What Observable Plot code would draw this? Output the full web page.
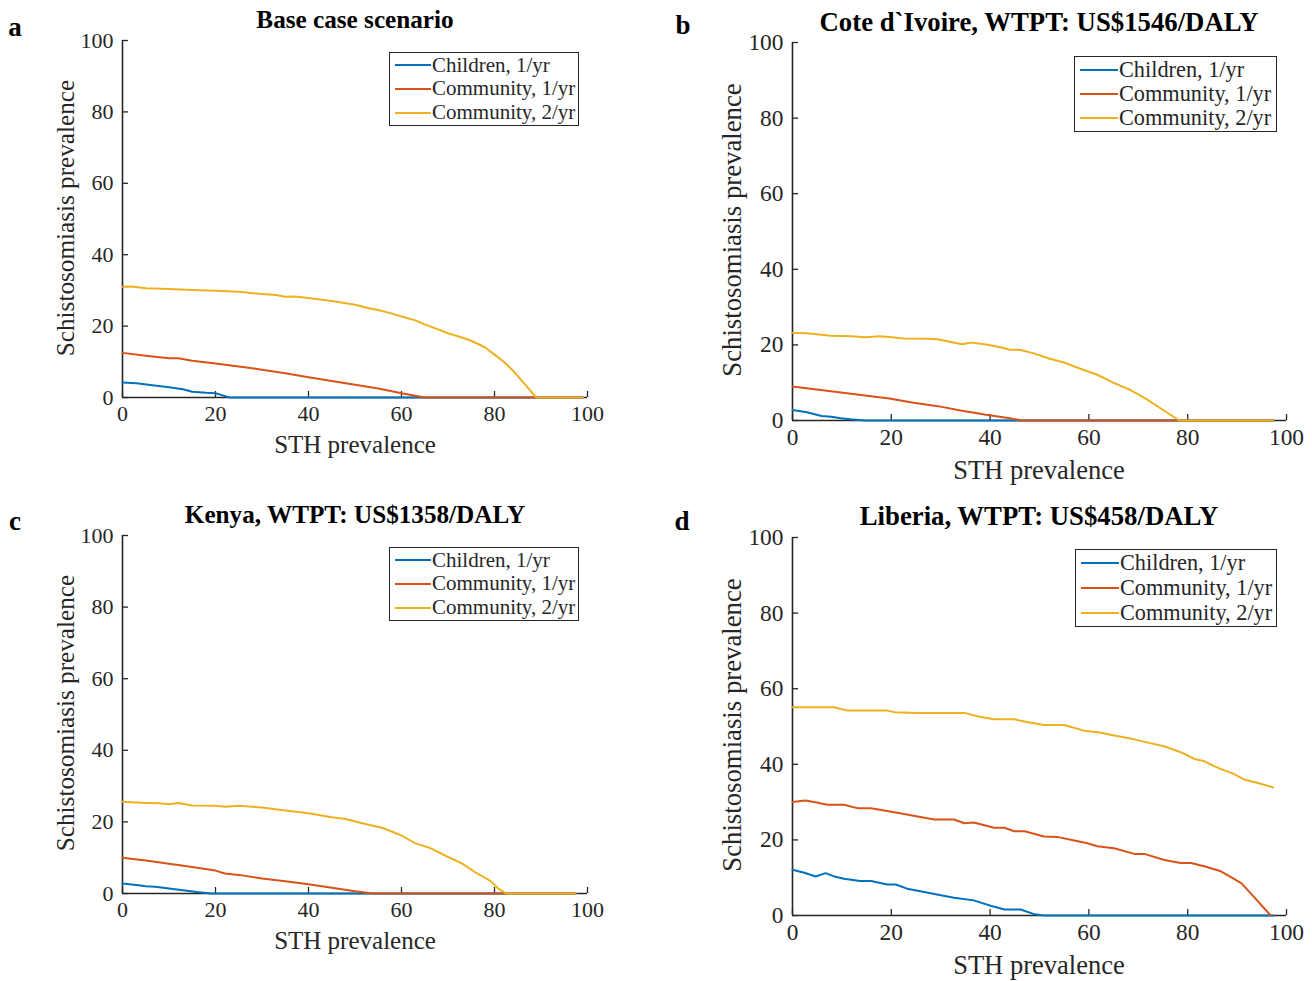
<!DOCTYPE html>
<html><head><meta charset="utf-8">
<script src="https://cdn.jsdelivr.net/npm/d3@7"></script>
<script src="https://cdn.jsdelivr.net/npm/@observablehq/plot@0.6"></script>
<style>
body{margin:0;background:#fff;}
#root{position:relative;width:1312px;height:981px;font-family:"Liberation Serif","Times New Roman",serif;color:#262626;overflow:hidden;background:#fff}
.abs{position:absolute;white-space:nowrap;line-height:1}
.title{font-weight:bold;color:#000;transform:translate(-50%,-50%)}
.letter{font-weight:bold;font-size:27px;color:#000;transform:translate(-50%,-50%)}
.xlab{transform:translate(-50%,-50%)}
.ylab{transform:translate(-50%,-50%) rotate(-90deg)}
.legend{border:1.5px solid #262626;background:#fff;box-sizing:border-box;color:#262626}
.row{position:absolute;left:0;display:flex;align-items:center;white-space:nowrap;line-height:1}
.sw{display:inline-block;height:2px;margin-right:1px}
</style>
</head><body><div id="root"></div>
<script>
// ---- data ----
const seriesNames = ["Children, 1/yr", "Community, 1/yr", "Community, 2/yr"];
const seriesColors = ["#0072BD", "#D95319", "#EDB120"];
const xTicks = [0, 20, 40, 60, 80, 100];
const yTicks = [0, 20, 40, 60, 80, 100];
const panelTitles = ["Base case scenario", "Cote d`Ivoire, WTPT: US$1546/DALY", "Kenya, WTPT: US$1358/DALY", "Liberia, WTPT: US$458/DALY"];
const panelLetters = ["a", "b", "c", "d"];
const xLabel = "STH prevalence";
const yLabel = "Schistosomiasis prevalence";

// panel a: Base case
const aChildren = [[0,4.2],[3,4.0],[6,3.5],[10,2.9],[13,2.3],[15,1.6],[18,1.3],[20,1.2],[21,0.8],[23,0],[99,0]];
const aCommunity1 = [[0,12.5],[5,11.7],[10,11.0],[12,11.0],[15,10.3],[20,9.5],[25,8.7],[30,7.8],[35,6.8],[40,5.7],[45,4.6],[50,3.6],[55,2.5],[60,1.2],[65,0],[99,0]];
const aCommunity2 = [[0,31],[2,31.1],[5,30.6],[10,30.4],[15,30.1],[20,29.9],[25,29.6],[30,29],[33,28.7],[35,28.2],[37,28.3],[40,27.9],[45,27],[50,26],[53,25],[55,24.5],[58,23.5],[60,22.7],[63,21.6],[65,20.5],[68,19],[70,18],[73,16.8],[75,15.9],[78,14],[80,12],[82,10],[84,7.5],[86,4.5],[88,1.5],[89,0],[99,0]];

// panel b: Cote d'Ivoire
const bChildren = [[0,2.8],[2.9,2.2],[5.9,1.2],[7.8,1.0],[9.8,0.6],[11.7,0.3],[14.7,0],[97.3,0]];
const bCommunity1 = [[0,9.0],[4.9,8.2],[9.8,7.4],[14.7,6.6],[19.6,5.8],[24.5,4.7],[29.4,3.8],[34.3,2.6],[39.2,1.5],[44,0.6],[46.5,0],[97.3,0]];
const bCommunity2 = [[0,23.2],[2.9,23.1],[4.9,22.8],[7.8,22.4],[11.7,22.3],[14.7,22.0],[17.6,22.3],[19.6,22.1],[22.5,21.7],[27.4,21.6],[29.4,21.5],[32.3,20.7],[34.3,20.2],[36.2,20.6],[39.2,20.1],[42.1,19.4],[44,18.7],[46,18.7],[49,17.7],[51.9,16.4],[54.8,15.4],[58.7,13.5],[61.7,12.1],[64.6,10.2],[68.5,8.0],[71.5,5.8],[74.4,3.3],[78.3,0],[97.3,0]];

// panel c: Kenya
const cChildren = [[0,2.8],[3,2.4],[5,2.0],[7,1.9],[10,1.4],[13,0.9],[16,0.4],[19,0],[97.4,0]];
const cCommunity1 = [[0,10],[5,9.2],[10,8.3],[15,7.4],[20,6.4],[22,5.6],[25,5.2],[30,4.2],[35,3.4],[40,2.6],[45,1.6],[50,0.6],[54,0],[97.4,0]];
const cCommunity2 = [[0,25.6],[5,25.3],[8,25.2],[10,24.9],[12,25.3],[15,24.6],[20,24.5],[22,24.2],[25,24.5],[30,24.0],[35,23.2],[40,22.4],[45,21.3],[48,20.8],[52,19.5],[56,18.3],[60,16.2],[63,14.0],[66,12.8],[70,10.2],[73,8.4],[76,5.8],[79,3.6],[81,1.2],[82.5,0],[97.4,0]];

// panel d: Liberia
const dChildren = [[0,12.1],[2.4,11.3],[4.7,10.3],[6.7,11.2],[8.3,10.4],[10.4,9.7],[13.7,9.1],[15.9,9.1],[19.2,8.2],[20.9,8.2],[23.2,7.1],[25.9,6.4],[28.7,5.7],[32.7,4.7],[36.7,4.0],[40.1,2.6],[42.9,1.6],[46.2,1.6],[49,0.3],[50.9,0],[97.3,0]];
const dCommunity1 = [[0,30],[2.6,30.4],[4.9,29.9],[7,29.3],[10.4,29.3],[13.1,28.4],[15.9,28.4],[21.2,27.2],[24.5,26.4],[28.7,25.4],[32.7,25.4],[34.8,24.4],[36.7,24.6],[40.8,23.2],[42.9,23.2],[44.9,22.3],[47,22.3],[50.9,20.9],[53.6,20.8],[56.8,19.9],[59.7,19.1],[61.7,18.3],[65.1,17.8],[69.2,16.3],[71.2,16.3],[75.3,14.7],[78.6,13.9],[80.7,13.9],[83.7,12.9],[86.7,11.7],[88.6,10.3],[90.9,8.5],[93.5,4.8],[96.8,0]];
const dCommunity2 = [[0,55.1],[8.4,55.1],[11.1,54.2],[19.2,54.2],[20.6,53.8],[25.3,53.6],[34.8,53.6],[37.4,52.7],[40.8,51.9],[44.9,51.9],[47.7,51.1],[50.9,50.4],[55,50.4],[59,48.9],[62.2,48.4],[65.1,47.6],[69.2,46.6],[72.4,45.6],[75.4,44.7],[78.6,43.2],[81.4,41.4],[83.2,40.9],[85.2,39.6],[87.4,38.4],[89.1,37.6],[91.4,36.0],[94,35.1],[97.3,33.9]];

const panelSeries = [
  [aChildren, aCommunity1, aCommunity2],
  [bChildren, bCommunity1, bCommunity2],
  [cChildren, cCommunity1, cCommunity2],
  [dChildren, dCommunity1, dCommunity2]
];

// ---- layout ----
const layout = [
  {x0:122, x1:587,  yTop:40,  yBot:397, s:1,     title:[355,20],   letter:[15,27],  xlab:[355,444],  ylab:[66,218],  legend:[389,52,190,74],   sw:36},
  {x0:792, x1:1286, yTop:42,  yBot:420, s:1.062, title:[1039,22],  letter:[683,25], xlab:[1039,470], ylab:[732,230], legend:[1074,56,203,76],  sw:38},
  {x0:122, x1:587,  yTop:535, yBot:893, s:1,     title:[355,515],  letter:[15,521], xlab:[355,940],  ylab:[66,713],  legend:[389,547,190,74],  sw:36},
  {x0:792, x1:1286, yTop:537, yBot:915, s:1.062, title:[1039,516], letter:[682,521],xlab:[1039,965], ylab:[732,725], legend:[1075,549,202,78], sw:38}
];

const root = document.getElementById("root");
const font = '"Liberation Serif","Times New Roman",serif';
const axisColor = "#262626";

function addDiv(cls, text, x, y, size) {
  const d = document.createElement("div");
  d.className = "abs " + cls;
  d.textContent = text;
  d.style.left = x + "px";
  d.style.top = y + "px";
  if (size) d.style.fontSize = size + "px";
  root.appendChild(d);
  return d;
}

layout.forEach((L, i) => {
  const s = L.s;
  const mL = 70, mR = 40, mT = 14, mB = 40;
  const w = L.x1 - L.x0 + mL + mR;
  const h = L.yBot - L.yTop + mT + mB;
  const lines = panelSeries[i].map((ser, k) =>
    Plot.line(ser, {x: d => d[0], y: d => d[1], stroke: seriesColors[k], strokeWidth: 2}));
  const chart = Plot.plot({
    width: w, height: h,
    marginLeft: mL, marginRight: mR, marginTop: mT, marginBottom: mB,
    x: {domain: [0, 100]},
    y: {domain: [0, 100]},
    style: {fontFamily: font, fontSize: (22 * s).toFixed(1) + "px", color: axisColor, background: "transparent", overflow: "visible"},
    marks: [
      Plot.axisX({ticks: xTicks, tickSize: -6, tickPadding: 14, tickFormat: d => String(d), label: null, fill: axisColor, strokeWidth: 1.3}),
      Plot.axisY({ticks: yTicks, tickSize: -6, tickPadding: 15, tickFormat: d => String(d), label: null, fill: axisColor, strokeWidth: 1.3}),
      Plot.ruleX([0], {stroke: axisColor, strokeWidth: 1.6}),
      Plot.ruleY([0], {stroke: axisColor, strokeWidth: 1.6}),
      ...lines
    ]
  });
  chart.style.position = "absolute";
  chart.style.left = (L.x0 - mL) + "px";
  chart.style.top = (L.yTop - mT) + "px";
  root.appendChild(chart);

  addDiv("title", panelTitles[i], L.title[0], L.title[1], 25.2 * s);
  addDiv("letter", panelLetters[i], L.letter[0], L.letter[1]);
  addDiv("xlab", xLabel, L.xlab[0], L.xlab[1], 25 * s);
  addDiv("ylab", yLabel, L.ylab[0], L.ylab[1], 25.2 * s);

  const lg = document.createElement("div");
  lg.className = "abs legend";
  lg.style.left = L.legend[0] + "px";
  lg.style.top = L.legend[1] + "px";
  lg.style.width = L.legend[2] + "px";
  lg.style.height = L.legend[3] + "px";
  lg.style.fontSize = (21 * s).toFixed(1) + "px";
  const rowH = (L.legend[3] - 3) / 3;
  seriesNames.forEach((name, k) => {
    const r = document.createElement("div");
    r.className = "row";
    r.style.top = (0.5 + k * rowH) + "px";
    r.style.height = rowH + "px";
    r.style.paddingLeft = "5px";
    const sw = document.createElement("span");
    sw.className = "sw";
    sw.style.width = L.sw + "px";
    sw.style.background = seriesColors[k];
    const t = document.createElement("span");
    t.textContent = name;
    r.appendChild(sw); r.appendChild(t);
    lg.appendChild(r);
  });
  root.appendChild(lg);
});
</script></body></html>
